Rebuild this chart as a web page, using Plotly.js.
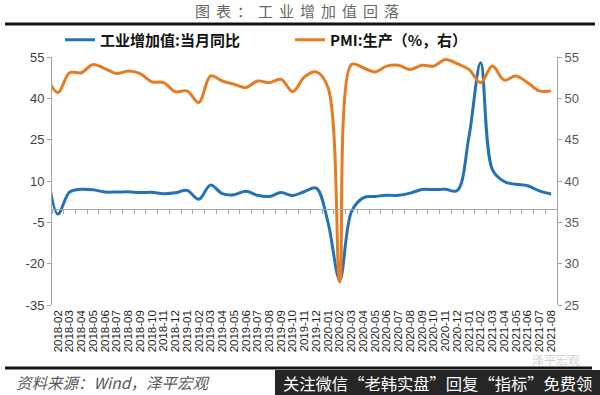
<!DOCTYPE html>
<html>
<head>
<meta charset="utf-8">
<script src="https://cdn.plot.ly/plotly-3.0.1.min.js"></script>
<style>html,body{margin:0;padding:0;background:#fff;}#chart{width:600px;height:395px;}</style>
</head>
<body>
<div id="chart"></div>
<script>
// Months (2018-01 is only used so the line enters from the left edge, as in the source)
const months = ['2018-01','2018-02','2018-03','2018-04','2018-05','2018-06','2018-07','2018-08','2018-09','2018-10','2018-11','2018-12',
  '2019-01','2019-02','2019-03','2019-04','2019-05','2019-06','2019-07','2019-08','2019-09','2019-10','2019-11','2019-12',
  '2020-01','2020-02','2020-03','2020-04','2020-05','2020-06','2020-07','2020-08','2020-09','2020-10','2020-11','2020-12',
  '2021-01','2021-02','2021-03','2021-04','2021-05','2021-06','2021-07','2021-08'];

// 工业增加值:当月同比 (%)
const industryYoY = [18.0,-2.0,6.0,7.0,6.8,6.0,6.0,6.1,5.8,5.9,5.4,5.7,
  6.6,3.4,8.5,5.4,5.0,6.3,4.8,4.4,5.8,4.7,6.2,7.4,
  -5.0,-25.9,-1.1,3.9,4.4,4.8,4.8,5.6,6.9,6.9,7.0,6.5,
  26.0,52.9,14.1,9.8,8.8,8.3,6.4,5.3];

// PMI:生产 (%, right axis)
const pmiProduction = [52.8,50.7,53.1,53.1,54.1,53.6,53.0,53.3,53.0,52.0,51.9,50.8,
  50.9,49.5,52.7,52.1,51.7,51.3,52.1,51.9,52.3,50.8,52.6,53.2,
  51.3,27.8,54.1,53.7,53.2,53.9,54.0,53.5,54.0,53.9,54.7,54.2,
  53.5,51.9,53.9,52.2,52.7,51.9,50.9,50.9];

const leftTickVals = [-35,-20,-5,10,25,40,55];
const leftTickText = ['-35','-20','-5','10','25','40','55'];
const rightTickVals = [25,30,35,40,45,50,55];

const seriesNames = ['工业增加值:当月同比','PMI:生产（%，右）'];
const titleText = '图表：工业增加值回落';
const sourceText = '资料来源：Wind，泽平宏观';
const bannerText = '关注微信“老韩实盘”回复“指标”免费领';
const watermarkText = '泽平宏观';

// pixel helpers for decorations outside the plot area (plot area: x 52..557, y 57..305)
const L = 52, R = 557, T = 57, B = 305;
const px = x => (x - L) / (R - L);
const py = y => (B - y) / (B - T);

const traces = [
  {x: months, y: industryYoY, name: seriesNames[0], type: 'scatter', mode: 'lines',
   line: {color: '#2372B6', width: 3, shape: 'spline', smoothing: 1}, yaxis: 'y'},
  {x: months, y: pmiProduction, name: seriesNames[1], type: 'scatter', mode: 'lines',
   line: {color: '#E67C22', width: 3, shape: 'spline', smoothing: 1}, yaxis: 'y2'}
];

const axisGray = '#a6a6a6';
const layout = {
  width: 600, height: 395, autosize: false,
  margin: {l: L, r: 600 - R, t: T, b: 395 - B, pad: 0},
  paper_bgcolor: '#ffffff', plot_bgcolor: '#ffffff',
  title: {text: titleText, x: 0.5, xref: 'container', xanchor: 'center',
          y: 1 - 12/395, yref: 'container', yanchor: 'middle',
          font: {family: 'Noto Sans CJK SC', size: 15, color: '#666666'}},
  showlegend: true,
  legend: {orientation: 'h', x: px(60), xanchor: 'left', y: py(40), yanchor: 'middle',
           font: {family: 'Noto Sans CJK SC', size: 15, color: '#111111', weight: 'bold'},
           entrywidth: 185, itemwidth: 30, bgcolor: 'rgba(0,0,0,0)', traceorder: 'normal'},
  xaxis: {type: 'category', categoryorder: 'array', categoryarray: months,
          range: [0.5, months.length - 0.5], anchor: 'free', position: 35/90,
          showline: true, linecolor: axisGray, linewidth: 1,
          ticks: 'outside', tickson: 'boundaries', ticklen: 4, tickcolor: axisGray, tickwidth: 1,
          tickmode: 'linear', tick0: 0, dtick: 1, tickangle: -90,
          ticklabelstandoff: 96,
          tickfont: {family: 'Liberation Sans', size: 11.5, color: '#222222'},
          showgrid: false, zeroline: false, fixedrange: true},
  yaxis: {range: [-35, 55], tickmode: 'array', tickvals: leftTickVals, ticktext: leftTickText,
          showline: true, linecolor: axisGray, linewidth: 1, ticks: 'outside', ticklen: 4,
          tickcolor: axisGray, tickfont: {family: 'Liberation Sans', size: 13, color: '#404040'},
          showgrid: false, zeroline: false, fixedrange: true},
  yaxis2: {range: [25, 55], overlaying: 'y', side: 'right', tickmode: 'array', tickvals: rightTickVals,
           showline: true, linecolor: axisGray, linewidth: 1, ticks: 'outside', ticklen: 4,
           tickcolor: axisGray, tickfont: {family: 'Liberation Sans', size: 13, color: '#595959'},
           showgrid: false, zeroline: false, fixedrange: true},
  shapes: [
    {type: 'line', xref: 'paper', yref: 'paper', x0: px(5), x1: px(595), y0: py(24), y1: py(24),
     line: {color: '#111111', width: 3}},
    {type: 'line', xref: 'paper', yref: 'paper', x0: px(5), x1: px(592), y0: py(368), y1: py(368),
     line: {color: '#111111', width: 3}},
    {type: 'rect', xref: 'paper', yref: 'paper', x0: px(275), x1: px(600), y0: py(395), y1: py(370),
     fillcolor: '#262626', line: {width: 0}}
  ],
  annotations: [
    {text: sourceText, xref: 'paper', yref: 'paper', x: px(14), y: py(382), xanchor: 'left', yanchor: 'middle',
     showarrow: false, font: {family: 'Noto Sans CJK SC', size: 15.5, color: '#595959', style: 'italic'}},
    {text: watermarkText, xref: 'paper', yref: 'paper', x: px(556), y: py(359), xanchor: 'center', yanchor: 'middle',
     showarrow: false, font: {family: 'Noto Sans CJK SC', size: 12, color: '#d2d2d2'}},
    {text: bannerText, xref: 'paper', yref: 'paper', x: px(281), y: py(383), xanchor: 'left', yanchor: 'middle',
     showarrow: false, font: {family: 'Noto Sans CJK SC', size: 16.3, color: '#ffffff'}}
  ]
};

Plotly.newPlot('chart', traces, layout, {staticPlot: true, displayModeBar: false}).then(function(){
  const t = document.querySelector('.gtitle');
  if (t) { t.style.letterSpacing = '6px'; }
});
</script>
</body>
</html>
